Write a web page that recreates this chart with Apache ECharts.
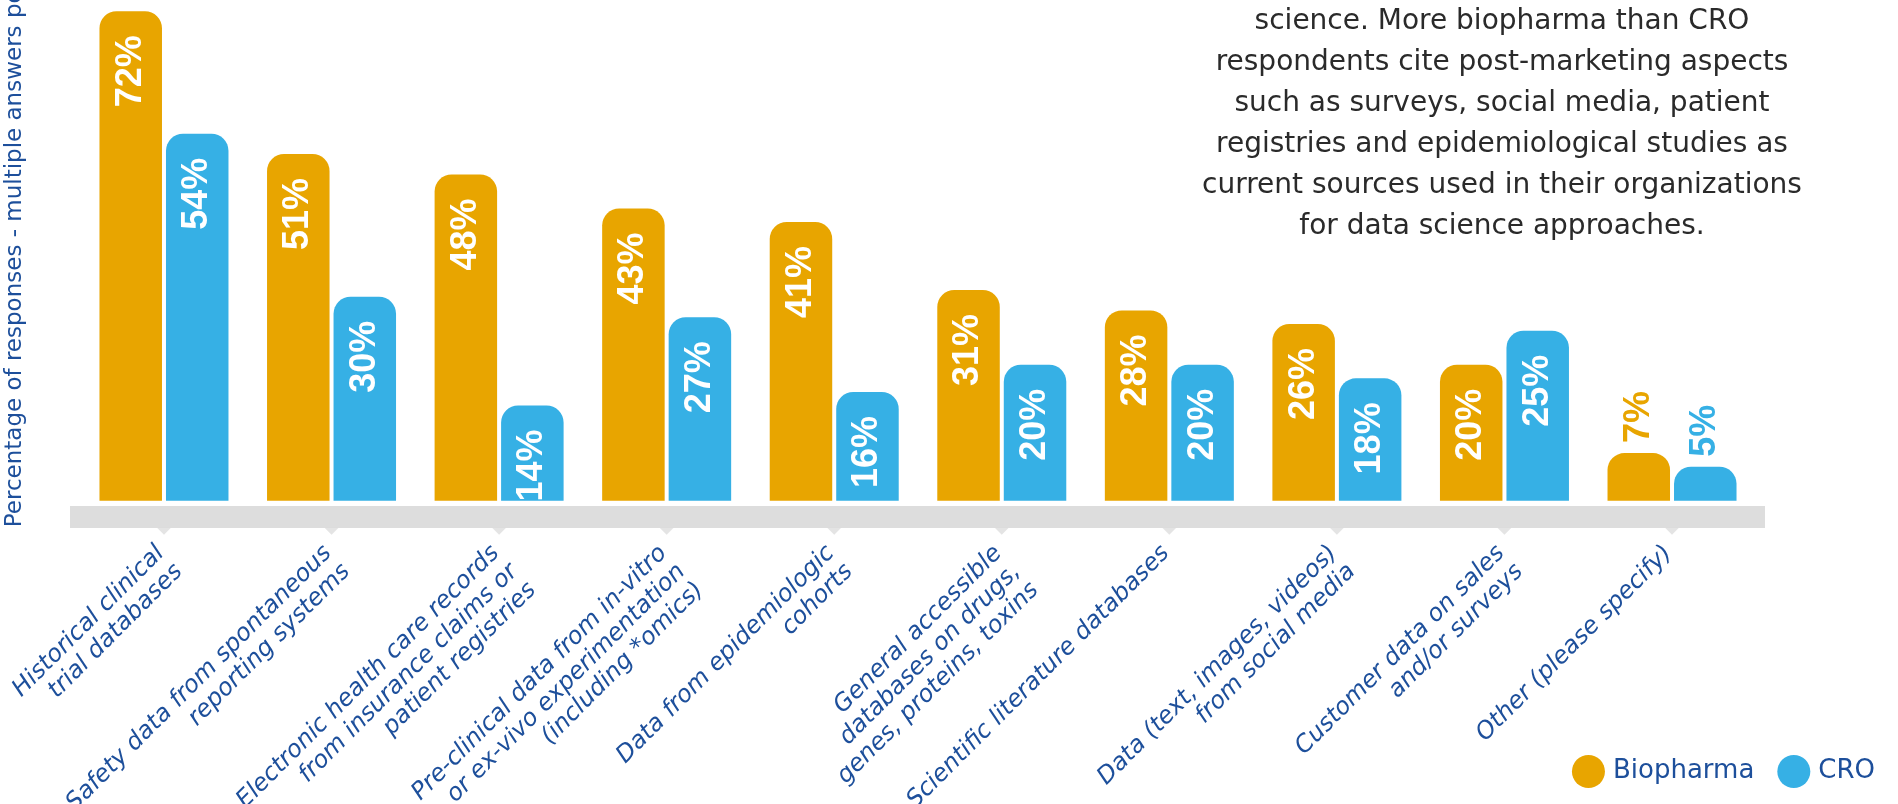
<!DOCTYPE html>
<html><head><meta charset="utf-8">
<script src="https://cdn.jsdelivr.net/npm/echarts@6/dist/echarts.min.js"></script>
<style>html,body{margin:0;padding:0;background:#fff}#c{width:1898px;height:804px}</style>
</head><body><div id="c"></div>
<script>
const categories = [
  'Historical clinical\ntrial databases',
  'Safety data from spontaneous\nreporting systems',
  'Electronic health care records\nfrom insurance claims or\npatient registries',
  'Pre-clinical data from in-vitro\nor ex-vivo experimentation\n(including *omics)',
  'Data from epidemiologic\ncohorts',
  'General accessible\ndatabases on drugs,\ngenes, proteins, toxins',
  'Scientific literature databases',
  'Data (text, images, videos)\nfrom social media',
  'Customer data on sales\nand/or surveys',
  'Other (please specify)'
];
const biopharma = [72, 51, 48, 43, 41, 31, 28, 26, 20, 7];
const cro       = [54, 30, 14, 27, 16, 20, 20, 18, 25, 5];
const seriesNames = ['Biopharma', 'CRO'];
const yAxisTitle = 'Percentage of responses - multiple answers possible';
const noteLines = [
  'science. More biopharma than CRO',
  'respondents cite post-marketing aspects',
  'such as surveys, social media, patient',
  'registries and epidemiological studies as',
  'current sources used in their organizations',
  'for data science approaches.'
];

const ORANGE = '#E8A500', BLUE = '#36B0E5', TXT_BLUE = '#1D4F9B', BAND = '#DDDDDD';

function barData(values, color) {
  return values.map(v => v < 10
    ? { value: v, label: { position: 'top', distance: 10, align: 'left', color: color } }
    : v);
}

const barLabel = {
  show: true, position: 'insideTop', distance: 24, rotate: 90,
  align: 'right', verticalAlign: 'middle',
  color: '#FFFFFF', fontFamily: 'Liberation Sans', fontWeight: 'bold', fontSize: 36,
  formatter: p => p.value + '%'
};

const chart = echarts.init(document.getElementById('c'), null, { renderer: 'canvas' });
chart.setOption({
  animation: false,
  backgroundColor: '#FFFFFF',
  grid: { left: 80.2, right: 142.2, top: 4.5, bottom: 303.3, containLabel: false, outerBoundsMode: 'none' },
  graphic: [
    { type: 'rect', z: 0, shape: { x: 70, y: 506, width: 1695, height: 22 }, style: { fill: BAND } },
    { type: 'text', z: 10, style: {
        text: noteLines.join('\n'), x: 1502, y: 1, textAlign: 'center', textVerticalAlign: 'top',
        fontFamily: 'DejaVu Sans', fontSize: 28, lineHeight: 41, fill: '#2A2A2A' } }
  ],
  legend: {
    data: seriesNames, right: 23, top: 755, padding: 0,
    icon: 'circle', itemWidth: 33, itemHeight: 33, itemGap: 23,
    textStyle: { fontFamily: 'DejaVu Sans', fontSize: 26, color: TXT_BLUE, padding: [0, 0, 0, 3] }
  },
  xAxis: {
    type: 'category', data: categories,
    axisLine: { show: false }, axisTick: { show: false },
    axisLabel: {
      interval: 0, rotate: 45, margin: 27, verticalAlign: 'top', padding: [0, 18, 0, 0],
      fontFamily: 'DejaVu Sans', fontStyle: 'italic', fontSize: 24, lineHeight: 26, color: TXT_BLUE
    }
  },
  yAxis: {
    type: 'value', min: 0, max: 73,
    axisLine: { show: false }, axisTick: { show: false }, axisLabel: { show: false },
    splitLine: { show: false },
    name: yAxisTitle, nameLocation: 'middle', nameGap: 54,
    nameTextStyle: { fontFamily: 'DejaVu Sans', fontSize: 23, color: TXT_BLUE, padding: [0, 0, 0, 54] }
  },
  series: [
    { name: seriesNames[0], type: 'bar', data: barData(biopharma, ORANGE), barWidth: 62.5, barGap: '6.4%',
      itemStyle: { color: ORANGE, borderRadius: [17, 17, 0, 0] }, label: barLabel },
    { name: seriesNames[1], type: 'bar', data: barData(cro, BLUE), barWidth: 62.5,
      itemStyle: { color: BLUE, borderRadius: [17, 17, 0, 0] }, label: barLabel },
    { name: 'ticks', type: 'scatter', silent: true, data: categories.map(() => 0),
      symbol: 'triangle', symbolRotate: 180, symbolSize: [14, 7], symbolOffset: [0, 30.5],
      itemStyle: { color: BAND }, z: 1 }
  ]
});
</script></body></html>
